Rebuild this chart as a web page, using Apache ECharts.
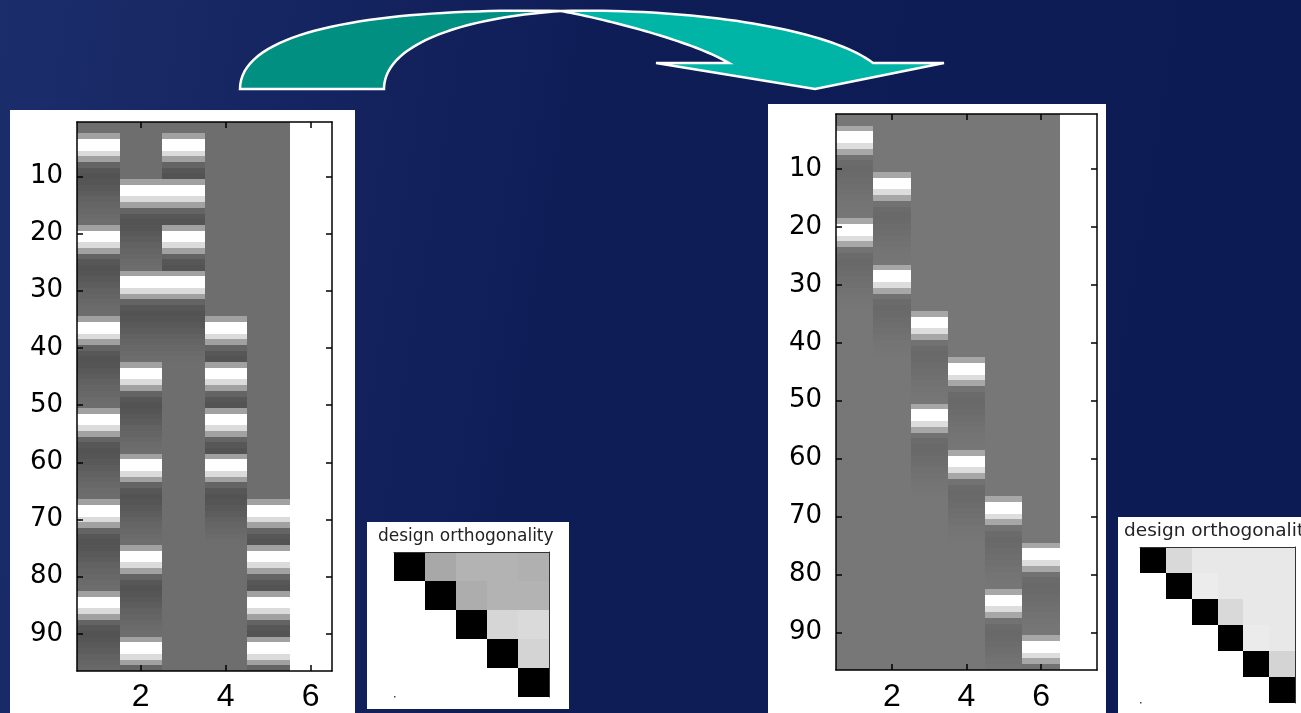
<!DOCTYPE html>
<html>
<head>
<meta charset="utf-8">
<script src="https://cdn.jsdelivr.net/npm/echarts@6/dist/echarts.min.js"></script>
<style>
  html, body { margin: 0; padding: 0; background: #101e58; }
  #chart { width: 1301px; height: 713px; }
</style>
</head>
<body>
<div id="chart"></div>
<script>
// ---- data ---------------------------------------------------------------
// scans (rows of the design matrices)
const scans = Array.from({ length: 96 }, (_, i) => String(i + 1));
// regressor columns
const leftRegressors = ['1', '2', '3', '4', '5', '6'];
const rightRegressors = ['1', '2', '3', '4', '5', '6', '7'];

// sampled event response, scan by scan from the onset scan (1 = column peak)
const responseShape = [0.35, 1.0, 1.0, 0.75, 0.35, -0.1, -0.22, -0.26, -0.24, -0.2, -0.16, -0.12, -0.09, -0.06, -0.03, -0.01];

// onset scans per regressor; null marks the constant column
const leftOnsets = [
  [3, 19, 35, 51, 67, 83],
  [11, 27, 43, 59, 75, 91],
  [3, 11, 19, 27],
  [35, 43, 51, 59],
  [67, 75, 83, 91],
  null
];
const rightOnsets = [
  [3, 19],
  [11, 27],
  [35, 51],
  [43, 59],
  [67, 83],
  [75, 91],
  null
];

// design orthogonality (upper triangle, |cosine| between regressors)
const leftOrtho = [
  [1, 0.34, 0.30, 0.30, 0.31],
  [null, 1, 0.32, 0.30, 0.30],
  [null, null, 1, 0.16, 0.145],
  [null, null, null, 1, 0.17],
  [null, null, null, null, 1]
];
const rightOrtho = [
  [1, 0.15, 0.09, 0.09, 0.09, 0.09],
  [null, 1, 0.075, 0.09, 0.09, 0.09],
  [null, null, 1, 0.15, 0.09, 0.09],
  [null, null, null, 1, 0.08, 0.09],
  [null, null, null, null, 1, 0.17],
  [null, null, null, null, null, 1]
];
const orthoTitle = 'design orthogonality';

// ---- build matrix cells ----------------------------------------------------
function designCells(onsets) {
  const cells = [];
  onsets.forEach((list, col) => {
    const values = new Array(scans.length).fill(0);
    if (list === null) {
      values.fill(1);
    } else {
      list.forEach(on => {
        responseShape.forEach((v, k) => {
          const r = on - 1 + k;
          if (r < values.length && Math.abs(v) > Math.abs(values[r])) values[r] = v;
        });
      });
    }
    values.forEach((v, r) => cells.push([col, r, v]));
  });
  return cells;
}
function orthoCells(m) {
  const cells = [];
  m.forEach((row, i) => row.forEach((v, j) => { if (v !== null) cells.push([j, i, v]); }));
  return cells;
}

// image-style cells: one filled rect per category band, snapped to whole pixels so bands abut cleanly
const snap = (v) => Math.floor(v + 0.5 + 1e-6);
function cellSeries(axisIndex, data) {
  return {
    type: 'custom', xAxisIndex: axisIndex, yAxisIndex: axisIndex, data,
    encode: { x: 0, y: 1 }, silent: true, z: 2,
    renderItem(params, api) {
      const c = api.coord([api.value(0), api.value(1)]);
      const s = api.size([1, 1]);
      const x0 = snap(c[0] - s[0] / 2), x1 = snap(c[0] + s[0] / 2);
      const y0 = snap(c[1] - s[1] / 2), y1 = snap(c[1] + s[1] / 2);
      return {
        type: 'rect',
        shape: { x: x0, y: y0, width: x1 - x0, height: y1 - y0 },
        style: { fill: api.visual('color') }
      };
    }
  };
}

// ---- axes helpers ---------------------------------------------------------
const black = { color: '#000', width: 1.5 };
const everyOther = (i) => (i + 1) % 2 === 0;
const everyTenth = (i) => (i + 1) % 10 === 0;

function designX(gridIndex, cats, position, labelMargin) {
  return {
    type: 'category', gridIndex, data: cats, position, z: 5,
    axisLine: { show: true, lineStyle: black },
    axisTick: { show: true, inside: true, length: 6, alignWithLabel: true, interval: everyOther, lineStyle: black },
    axisLabel: {
      show: position === 'bottom', interval: everyOther, margin: labelMargin,
      fontSize: 32, fontFamily: 'Liberation Sans', color: '#000'
    },
    splitLine: { show: false }
  };
}
function designY(gridIndex, position) {
  return {
    type: 'category', gridIndex, data: scans, inverse: true, position, z: 5,
    axisLine: { show: true, lineStyle: black },
    axisTick: { show: true, inside: true, length: 6, alignWithLabel: true, interval: everyTenth, lineStyle: black },
    axisLabel: {
      show: position === 'left', interval: everyTenth, margin: 14,
      fontSize: 26, fontFamily: 'DejaVu Sans', color: '#000'
    },
    splitLine: { show: false }
  };
}
function orthoX(gridIndex, n) {
  return {
    type: 'category', gridIndex, position: 'top', z: 5,
    data: Array.from({ length: n }, (_, i) => String(i + 1)),
    axisLine: { show: true, lineStyle: { color: '#333', width: 1 } },
    axisTick: { show: false }, axisLabel: { show: false }, splitLine: { show: false }
  };
}
function orthoY(gridIndex, n) {
  return {
    type: 'category', gridIndex, position: 'right', inverse: true, z: 5,
    data: Array.from({ length: n }, (_, i) => String(i + 1)),
    axisLine: { show: true, lineStyle: { color: '#333', width: 1 } },
    axisTick: { show: false }, axisLabel: { show: false }, splitLine: { show: false }
  };
}

// ---- curved arrow outline ------------------------------------------------
function cubic(p0, p1, p2, p3, n) {
  const pts = [];
  for (let i = 0; i <= n; i++) {
    const t = i / n, u = 1 - t;
    const a = u * u * u, b = 3 * u * u * t, c = 3 * u * t * t, d = t * t * t;
    pts.push([a * p0[0] + b * p1[0] + c * p2[0] + d * p3[0], a * p0[1] + b * p1[1] + c * p2[1] + d * p3[1]]);
  }
  return pts;
}
const arrowBack = [
  ...cubic([240, 89], [240, 25], [400, 8], [561, 11], 40),
  ...cubic([561, 11], [460, 18], [384, 45], [384, 89], 40)
];
const arrowFront = [
  ...cubic([561, 11], [700, 8], [830, 30], [873, 63], 40),
  [944, 63], [815, 89], [656, 63],
  ...cubic([729, 63], [690, 40], [600, 18], [561, 11], 40)
];

// ---- chart ---------------------------------------------------------------
const chart = echarts.init(document.getElementById('chart'));
chart.setOption({
  animation: false,
  backgroundColor: 'transparent',
  graphic: [
    {
      type: 'rect', z: -20, silent: true,
      shape: { x: 0, y: 0, width: 1301, height: 713 },
      style: {
        fill: {
          type: 'linear', x: 0, y: 0, x2: 1, y2: 0.3,
          colorStops: [
            { offset: 0, color: '#1b2d6b' },
            { offset: 0.45, color: '#0f1d57' },
            { offset: 1, color: '#0d1b55' }
          ]
        }
      }
    },
    { type: 'rect', z: -10, silent: true, shape: { x: 10, y: 110, width: 345, height: 603 }, style: { fill: '#fff' } },
    { type: 'rect', z: -10, silent: true, shape: { x: 768, y: 104, width: 338, height: 609 }, style: { fill: '#fff' } },
    { type: 'rect', z: -10, silent: true, shape: { x: 367, y: 522, width: 202, height: 187 }, style: { fill: '#fff' } },
    { type: 'rect', z: -10, silent: true, shape: { x: 1118, y: 517, width: 183, height: 196 }, style: { fill: '#fff' } },
    {
      type: 'polygon', z: 10, silent: true, shape: { points: arrowBack },
      style: { fill: '#008f80', stroke: '#ffffff', lineWidth: 2.5, lineJoin: 'miter' }
    },
    {
      type: 'polygon', z: 10, silent: true, shape: { points: arrowFront },
      style: { fill: '#00b5a5', stroke: '#ffffff', lineWidth: 2.5, lineJoin: 'miter' }
    },
    {
      type: 'text', z: 10, silent: true, x: 378, y: 537,
      style: { text: orthoTitle, fontSize: 17, fontFamily: 'DejaVu Sans', fill: '#222', verticalAlign: 'middle' }
    },
    {
      type: 'text', z: 10, silent: true, x: 1124, y: 531,
      style: { text: orthoTitle, fontSize: 18.5, fontFamily: 'DejaVu Sans', fill: '#222', verticalAlign: 'middle' }
    },
    { type: 'rect', z: 10, silent: true, shape: { x: 394, y: 696, width: 1.5, height: 1.5 }, style: { fill: '#444' } },
    { type: 'rect', z: 10, silent: true, shape: { x: 1140, y: 702, width: 1.5, height: 1.5 }, style: { fill: '#444' } }
  ],
  grid: [
    { left: 77, top: 122, width: 255, height: 549 },
    { left: 836, top: 114, width: 261, height: 558 },
    { left: 394, top: 552, width: 155, height: 145 },
    { left: 1140, top: 547, width: 155, height: 156 }
  ],
  xAxis: [
    designX(0, leftRegressors, 'bottom', 10),
    designX(0, leftRegressors, 'top', 10),
    designX(1, rightRegressors, 'bottom', 11),
    designX(1, rightRegressors, 'top', 11),
    orthoX(2, 5),
    orthoX(3, 6)
  ],
  yAxis: [
    designY(0, 'left'),
    designY(0, 'right'),
    designY(1, 'left'),
    designY(1, 'right'),
    orthoY(2, 5),
    orthoY(3, 6)
  ],
  visualMap: [
    { type: 'continuous', show: false, seriesIndex: 0, dimension: 2, min: -1, max: 1, inRange: { color: ['#060606', '#6e6e6e', '#ffffff'] } },
    { type: 'continuous', show: false, seriesIndex: 1, dimension: 2, min: -1, max: 1, inRange: { color: ['#404040', '#777777', '#ffffff'] } },
    { type: 'continuous', show: false, seriesIndex: [2, 3], dimension: 2, min: 0, max: 1, inRange: { color: ['#ffffff', '#000000'] } }
  ],
  series: [
    cellSeries(0, designCells(leftOnsets)),
    cellSeries(2, designCells(rightOnsets)),
    cellSeries(4, orthoCells(leftOrtho)),
    cellSeries(5, orthoCells(rightOrtho))
  ]
});
</script>
</body>
</html>
